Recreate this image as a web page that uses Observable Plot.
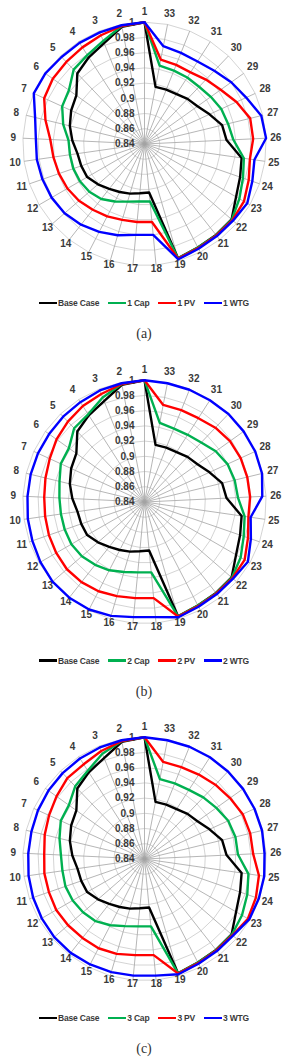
<!DOCTYPE html>
<html>
<head>
<meta charset="utf-8">
<script src="https://cdn.jsdelivr.net/npm/d3@7"></script>
<script src="https://cdn.jsdelivr.net/npm/@observablehq/plot@0.6"></script>
<style>
  html, body { margin: 0; padding: 0; background: #fff; }
  body { width: 288px; overflow: hidden; }
  .block { position: relative; width: 288px; height: 357.5px; }
  .block svg { display: block; }
  .legend { display: flex; justify-content: center; align-items: center; gap: 9px;
            height: 36px; font: 700 8.5px "Liberation Sans", Arial, sans-serif; color: #3a3a3a;
            white-space: nowrap; letter-spacing: -0.2px; }
  .item { display: flex; align-items: center; }
  .sw { display: inline-block; width: 18px; height: 2.5px; margin-right: 1px; }
  .caption { text-align: center; font: 14px "Liberation Serif", serif; color: #333;
             height: 26px; line-height: 26px; }
</style>
</head>
<body>
<div id="root"></div>
<script>
// Bus numbers of the 33-bus feeder (spokes of the radar)
const nodes = d3.range(1, 34);

// Bus voltage (p.u.) per bus, bus 1..33
const baseCase = [1.000, 0.997, 0.983, 0.9755, 0.968, 0.950, 0.946, 0.941, 0.935, 0.929, 0.928,
  0.927, 0.921, 0.915, 0.911, 0.908, 0.905, 0.904, 0.9965, 0.993, 0.992, 0.9915, 0.979, 0.973,
  0.969, 0.948, 0.945, 0.934, 0.9255, 0.922, 0.918, 0.917, 0.9165];

const cap1 = [1.000, 0.998, 0.986, 0.979, 0.975, 0.962, 0.959, 0.950, 0.940, 0.939, 0.939,
  0.938, 0.936, 0.932, 0.925, 0.919, 0.916, 0.916, 0.9966, 0.993, 0.9925, 0.992, 0.984, 0.977,
  0.972, 0.957, 0.953, 0.951, 0.947, 0.944, 0.944, 0.944, 0.945];
const pv1 = [1.000, 0.998, 0.994, 0.991, 0.989, 0.988, 0.985, 0.974, 0.964, 0.961, 0.959,
  0.957, 0.954, 0.950, 0.947, 0.944, 0.943, 0.943, 0.997, 0.994, 0.993, 0.993, 0.991, 0.985,
  0.980, 0.983, 0.983, 0.973, 0.963, 0.957, 0.952, 0.952, 0.953];
const wtg1 = [1.000, 0.999, 0.998, 0.998, 0.998, 1.000, 1.000, 0.988, 0.983, 0.983, 0.982,
  0.981, 0.979, 0.975, 0.970, 0.965, 0.960, 0.960, 0.998, 0.995, 0.994, 0.994, 0.996, 0.990,
  0.986, 1.000, 0.998, 0.987, 0.980, 0.973, 0.969, 0.969, 0.971];

const cap2 = [1.000, 0.998, 0.988, 0.977, 0.974, 0.962, 0.961, 0.955, 0.952, 0.951, 0.951,
  0.951, 0.949, 0.945, 0.941, 0.936, 0.933, 0.933, 0.9966, 0.993, 0.9925, 0.992, 0.986, 0.978,
  0.973, 0.963, 0.962, 0.960, 0.955, 0.948, 0.945, 0.944, 0.946];
const pv2 = [1.000, 0.998, 0.993, 0.990, 0.986, 0.982, 0.977, 0.974, 0.972, 0.972, 0.973,
  0.974, 0.975, 0.974, 0.972, 0.969, 0.967, 0.967, 0.997, 0.994, 0.993, 0.993, 0.992, 0.984,
  0.978, 0.979, 0.979, 0.979, 0.978, 0.975, 0.971, 0.970, 0.970];
const wtg2 = [1.000, 0.999, 0.998, 0.996, 0.995, 0.994, 0.994, 0.994, 0.994, 0.995, 0.996,
  0.998, 1.000, 1.000, 0.999, 0.996, 0.992, 0.992, 0.998, 0.995, 0.994, 0.994, 0.997, 0.988,
  0.981, 0.995, 0.999, 1.000, 1.000, 1.000, 0.999, 0.999, 0.999];

const cap3 = [1.000, 0.998, 0.989, 0.978, 0.972, 0.962, 0.961, 0.955, 0.950, 0.949, 0.950,
  0.949, 0.947, 0.944, 0.938, 0.932, 0.929, 0.929, 0.9966, 0.993, 0.9925, 0.992, 0.988, 0.983,
  0.978, 0.963, 0.963, 0.961, 0.956, 0.952, 0.948, 0.947, 0.947];
const pv3 = [1.000, 0.998, 0.993, 0.988, 0.987, 0.982, 0.978, 0.975, 0.972, 0.973, 0.973,
  0.974, 0.973, 0.972, 0.972, 0.970, 0.967, 0.967, 0.997, 0.994, 0.993, 0.993, 0.997, 0.995,
  0.992, 0.983, 0.983, 0.982, 0.978, 0.975, 0.972, 0.970, 0.970];
const wtg3 = [1.000, 0.999, 0.998, 0.997, 0.996, 0.995, 0.994, 0.993, 0.993, 0.994, 0.995,
  0.996, 0.997, 0.997, 0.996, 0.995, 0.994, 0.994, 0.998, 0.995, 0.994, 0.994, 0.999, 0.999,
  0.999, 0.998, 0.999, 0.999, 0.999, 0.999, 0.999, 0.999, 0.999];

// Radial axis ticks (p.u.)
const ringTicks = [0.84, 0.86, 0.88, 0.90, 0.92, 0.94, 0.96, 0.98, 1.00];
const tickLabels = ["0.84", "0.86", "0.88", "0.9", "0.92", "0.94", "0.96", "0.98", "1"];

const scenarios = ["1", "2", "3"];
const captions = ["(a)", "(b)", "(c)"];
const seriesKinds = ["Base Case", "Cap", "PV", "WTG"];
const seriesColors = ["#000000", "#00b050", "#ff0000", "#0000ff"];
const scenarioSeries = [[cap1, pv1, wtg1], [cap2, pv2, wtg2], [cap3, pv3, wtg3]];

// Geometry of each radar panel
const W = 288, H = 285, CY = 143.5, RPX = 121.7;
const vMin = ringTicks[0], vMax = ringTicks[ringTicks.length - 1];
const N = nodes.length;
const ang = (i) => i * 2 * Math.PI / N;             // counter-clockwise from top
const unit = (v) => (v - vMin) / (vMax - vMin);
const px = (i, u) => -u * Math.sin(ang(i));
const py = (i, u) => u * Math.cos(ang(i));
// label ring sits a little outside the outer grid polygon
const labelU = (i) => (RPX + 7 + 3.5 * Math.cos(ang(i)) + 2.5 * Math.abs(Math.sin(ang(i)))) / RPX;

function radar(k) {
  const names = ["Base Case", ...seriesKinds.slice(1).map((s) => `${scenarios[k]} ${s}`)];
  const values = [baseCase, ...scenarioSeries[k]];
  const rows = names.flatMap((name, s) => values[s].map((v, i) => ({name, i, v})));
  const rings = ringTicks.slice(1).flatMap((t) => nodes.map((n, i) => ({t, i})));

  const plot = Plot.plot({
    width: W, height: H, margin: 0,
    x: {domain: [-W / 2 / RPX, W / 2 / RPX], axis: null},
    y: {domain: [-(H - CY) / RPX, CY / RPX], axis: null},
    color: {domain: names, range: seriesColors},
    style: {fontFamily: "'Liberation Sans', Arial, sans-serif", background: "#fff", overflow: "visible"},
    marks: [
      Plot.line(rings, {
        x: (d) => px(d.i, unit(d.t)), y: (d) => py(d.i, unit(d.t)), z: "t",
        curve: "linear-closed", stroke: "#cfcfcf", strokeWidth: 0.9
      }),
      Plot.link(nodes, {
        x1: 0, y1: 0,
        x2: (n, i) => px(i, 1), y2: (n, i) => py(i, 1),
        stroke: "#a3a3a3", strokeWidth: 0.8
      }),
      Plot.text(ringTicks, {
        x: 0, y: (t) => unit(t), text: (t, i) => tickLabels[i],
        textAnchor: "end", dx: -10, fontSize: 10, fontWeight: "bold", fill: "#3a3a3a"
      }),
      Plot.text(nodes, {
        x: (n, i) => px(i, labelU(i)), y: (n, i) => py(i, labelU(i)),
        text: (n) => String(n), fontSize: 10, fontWeight: "bold", fill: "#3a3a3a"
      }),
      Plot.line(rows, {
        x: (d) => px(d.i, unit(d.v)), y: (d) => py(d.i, unit(d.v)),
        z: "name", stroke: "name", curve: "linear-closed",
        strokeWidth: 2.4, strokeLinejoin: "round"
      })
    ]
  });

  const block = document.createElement("div");
  block.className = "block";
  block.appendChild(plot);

  const legend = document.createElement("div");
  legend.className = "legend";
  names.forEach((name, s) => {
    const item = document.createElement("span");
    item.className = "item";
    const sw = document.createElement("span");
    sw.className = "sw";
    sw.style.background = seriesColors[s];
    item.appendChild(sw);
    item.appendChild(document.createTextNode(name));
    legend.appendChild(item);
  });
  block.appendChild(legend);

  const cap = document.createElement("div");
  cap.className = "caption";
  cap.textContent = captions[k];
  block.appendChild(cap);
  return block;
}

const root = document.getElementById("root");
scenarios.forEach((s, k) => root.appendChild(radar(k)));
</script>
</body>
</html>
